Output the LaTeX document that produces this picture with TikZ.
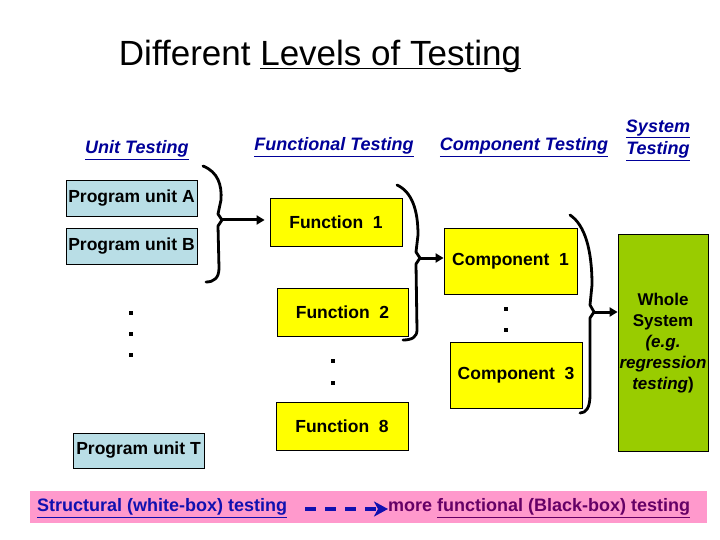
\documentclass[tikz,border=0pt]{standalone}
\usepackage{fontspec}
\setmainfont{Liberation Sans}
\usetikzlibrary{arrows.meta,calc}
\definecolor{unitblue}{HTML}{B9DEE6}
\definecolor{funyellow}{HTML}{FFFF00}
\definecolor{sysgreen}{HTML}{99CC00}
\definecolor{barpink}{HTML}{FF99CC}
\definecolor{hdrblue}{HTML}{000099}
\definecolor{botblue}{HTML}{1010B0}
\definecolor{botpurple}{HTML}{660066}
\begin{document}
\begin{tikzpicture}[x=1pt,y=-1pt,
  boxlabel/.style={font=\bfseries\fontsize{17.5}{20}\selectfont,inner sep=0pt,draw=black,line width=0.8pt},
  unitbox/.style={boxlabel,fill=unitblue,minimum width=131pt,minimum height=36pt},
  funbox/.style={boxlabel,fill=funyellow,minimum width=132pt,minimum height=48pt},
  compbox/.style={boxlabel,fill=funyellow,minimum width=133pt,minimum height=66pt},
  hdr/.style={font=\bfseries\itshape\fontsize{18}{22}\selectfont,text=hdrblue,inner sep=0pt,align=center},
  bracestyle/.style={line width=2.8pt,line join=round,line cap=round},
  joinarrow/.style={line width=3pt,-{Triangle[length=8pt,width=9pt]}},
  dotmark/.style={fill=black,minimum size=3.5pt,inner sep=0pt}]
\useasboundingbox (0,0) rectangle (720,540);
\fill[white] (0,0) rectangle (720,540);

% title
\node[font=\fontsize{35}{42}\selectfont,inner sep=0pt,anchor=base] (title) at (320,66) {Different \underline{Levels of Testin\smash{g}}};

% headers
\node[hdr,anchor=west] (hunit) at (85,150) {\underline{Unit Testing}};
\node[hdr] (hfun) at (334,147) {\underline{Functional Testing}};
\node[hdr] (hcomp) at (524,147) {\underline{Component Testing}};
\node[hdr] (hsys1) at (658,129) {\underline{System}};
\node[hdr] (hsys2) at (658,151) {\underline{Testing}};

% unit boxes
\node[unitbox] (ua) at (131.5,198) {Program unit A};
\node[unitbox] (ub) at (131.5,246) {Program unit B};
\node[unitbox,minimum height=35pt] (ut) at (138.5,450.5) {Program unit T};
\node[dotmark] (ud1) at (131,313) {};
\node[dotmark] (ud2) at (131,334) {};
\node[dotmark] (ud3) at (131,355) {};

% function boxes
\node[funbox] (f1) at (336,222) {Function\ \ 1};
\node[funbox,minimum width=131pt] (f2) at (342.5,312) {Function\ \ 2};
\node[funbox] (f8) at (342,426) {Function\ \ 8};
\node[dotmark] (fd1) at (333,361) {};
\node[dotmark] (fd2) at (333,383) {};

% component boxes
\node[compbox] (c1) at (510.5,261) {Component\ \ 1};
\node[compbox,minimum width=132pt] (c3) at (516,375) {Component\ \ 3};
\node[dotmark] (cd1) at (506,309) {};
\node[dotmark] (cd2) at (506,330) {};

% whole system
\node[draw=black,line width=0.8pt,fill=sysgreen,minimum width=90pt,minimum height=217pt,inner sep=0pt] (ws) at (663,342.5) {};
\node[font=\bfseries\fontsize{17}{21}\selectfont,align=center,inner sep=0pt] (wstext) at (663,343) {Whole\\System\\\textit{(e.g.}\\\textit{regression}\\\textit{testing})};

% braces
\coordinate (k1) at (222,220);
\coordinate (k2) at (420,258);
\coordinate (k3) at (594,312);
\draw[bracestyle] (203,166) .. controls (218,172) and (222,185) .. (221,200) -- (218,214) -- (k1) -- (218,226) -- (219,268) .. controls (219,278) and (214,282) .. (206,282);
\draw[bracestyle] (397,185) .. controls (412,192) and (418,210) .. (418,235) -- (416,252) -- (k2) -- (416,264) -- (417,330) .. controls (417,337) and (412,340) .. (403,340);
\draw[bracestyle] (570,215) .. controls (585,225) and (592,250) .. (592,285) -- (590,305) -- (k3) -- (590,318) -- (590,395) .. controls (590,408) and (586,413) .. (580,413);

% arrows
\draw[joinarrow,shorten >=5pt] (k1) -- (k1 -| f1.west);
\draw[joinarrow] (k2) -- (k2 -| c1.west);
\draw[joinarrow] (k3) -- (k3 -| ws.west);

% bottom bar
\fill[barpink] (30,491) rectangle (707,523);
\node[font=\bfseries\fontsize{18}{22}\selectfont,text=botblue,anchor=west,inner sep=0pt] (struct) at (37,508) {\underline{Structural (white-box) testing}};
\node[font=\bfseries\fontsize{18}{22}\selectfont,text=botpurple,anchor=west,inner sep=0pt] (more) at (388,508) {more \underline{functional (Black-box) testing}};
\coordinate (dstart) at (305,509);
\draw[botblue,line width=3.5pt,dash pattern=on 11pt off 9pt,-{Stealth[length=14pt,width=15pt,inset=4pt]}] (dstart) -- (dstart -| more.west);
\end{tikzpicture}
\end{document}
